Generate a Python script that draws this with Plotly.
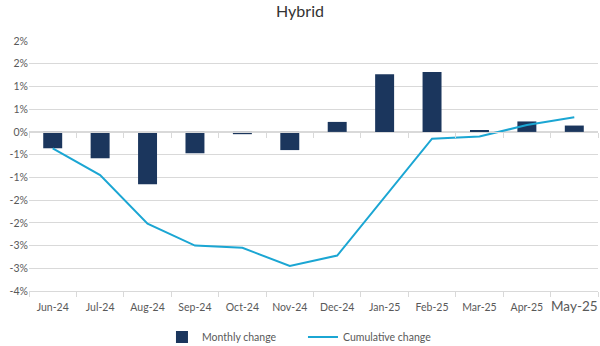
import plotly.graph_objects as go

# Monthly figures for the Hybrid segment (percent)
months = ["Jun-24", "Jul-24", "Aug-24", "Sep-24", "Oct-24", "Nov-24",
          "Dec-24", "Jan-25", "Feb-25", "Mar-25", "Apr-25", "May-25"]
monthly_change = [-0.36, -0.58, -1.15, -0.47, -0.05, -0.40,
                  0.22, 1.27, 1.32, 0.04, 0.23, 0.14]
cumulative_change = [-0.36, -0.95, -2.02, -2.50, -2.55, -2.95,
                     -2.72, -1.43, -0.15, -0.10, 0.15, 0.32]

y_ticks = [2.0, 1.5, 1.0, 0.5, 0.0, -0.5, -1.0, -1.5, -2.0, -2.5, -3.0, -3.5]
y_tick_labels = ["2%", "2%", "1%", "1%", "0%", "-1%", "-1%", "-2%", "-2%", "-3%", "-3%", "-4%"]

NAVY = "#1B365D"
CYAN = "#1BA6D3"
GRID = "#D9D9D9"
LABEL = "#595959"
FONT = "Lato, 'Open Sans', sans-serif"

y_min, y_max = -3.5, 2.0

# the latest month is shown in a larger label
x_tick_text = months[:-1] + ['<span style="font-size:13.5px">%s</span>' % months[-1]]

fig = go.Figure()
fig.add_trace(go.Bar(
    x=months, y=monthly_change, name="Monthly change",
    marker=dict(color=NAVY, line=dict(width=0)),
    width=0.4,
))
fig.add_trace(go.Scatter(
    x=months, y=cumulative_change, name="Cumulative change",
    mode="lines", line=dict(color=CYAN, width=2),
))

fig.update_layout(
    width=600, height=346,
    margin=dict(l=29, r=2, t=41, b=55, autoexpand=False),
    paper_bgcolor="white", plot_bgcolor="white",
    font=dict(family=FONT, size=10.5, color=LABEL),
    title=dict(text="Hybrid", x=0.5, xanchor="center", y=0.966, yanchor="middle",
               font=dict(family=FONT, size=16, color="#333333", weight="normal")),
    showlegend=True,
    legend=dict(orientation="h", x=0.2337, xanchor="left", y=-0.184, yanchor="middle",
                font=dict(family=FONT, size=10.5, color=LABEL),
                entrywidth=96, entrywidthmode="pixels",
                itemwidth=30, tracegroupgap=0),
    xaxis=dict(
        type="category", categoryorder="array", categoryarray=months,
        tickmode="array", tickvals=months, ticktext=x_tick_text, tickangle=0,
        showline=True, linecolor=GRID, linewidth=1,
        ticks="outside", tickson="boundaries", ticklen=5, tickcolor=GRID,
        ticklabelstandoff=6,
        showgrid=False, tickfont=dict(size=10.5, color=LABEL),
    ),
    # axis line with boundary ticks drawn along the zero level
    xaxis2=dict(
        type="category", categoryorder="array", categoryarray=months,
        overlaying="x", matches="x", anchor="free",
        position=(0 - y_min) / (y_max - y_min),
        showline=True, linecolor=GRID, linewidth=1,
        ticks="outside", tickson="boundaries", ticklen=5, tickcolor=GRID,
        showticklabels=False, showgrid=False,
    ),
    yaxis=dict(
        range=[y_min, y_max], tickmode="array", tickvals=y_ticks, ticktext=y_tick_labels,
        showgrid=True, gridcolor=GRID, gridwidth=1, zeroline=False,
        showline=False, ticks="", tickfont=dict(size=10.5, color=LABEL),
    ),
    bargap=0.6,
)

# invisible companion trace so the zero-level axis is rendered
fig.add_trace(go.Scatter(x=months, y=[None] * len(months), xaxis="x2", yaxis="y",
                         showlegend=False, hoverinfo="skip", mode="lines"))

fig.write_html("out.html")
